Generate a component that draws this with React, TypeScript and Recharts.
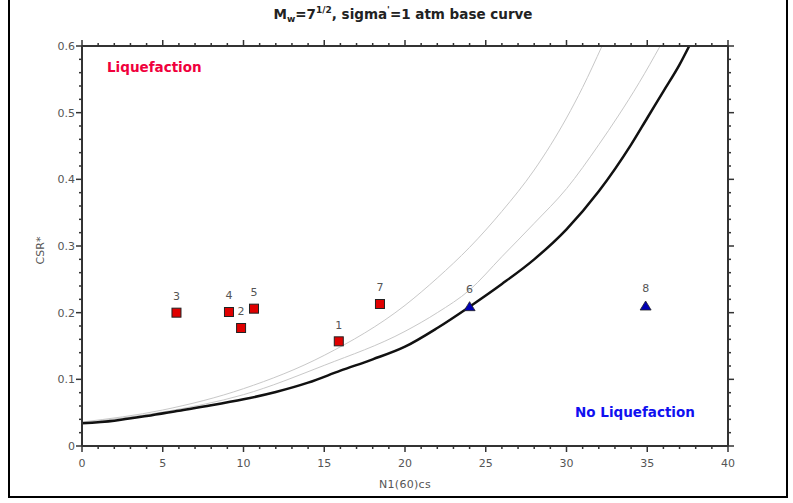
import { ComposedChart, Line, Scatter, XAxis, YAxis, CartesianGrid, LabelList } from "recharts"

// base curve and the two thin reference curves
const baseN = [0, 2, 4, 6, 8, 10, 12, 14, 16, 18, 20, 22, 24, 26, 28, 30, 32, 34, 35, 36, 37, 37.6]
const baseCsr = [0.034, 0.038, 0.045, 0.053, 0.061, 0.07, 0.081, 0.095, 0.113, 0.13, 0.149, 0.177, 0.209, 0.243, 0.28, 0.325, 0.382, 0.452, 0.492, 0.532, 0.572, 0.6]

const midN = [0, 5, 10, 15, 20, 22, 24, 26, 28, 30, 32, 33.2, 34.5, 35.8]
const midCsr = [0.035, 0.051, 0.077, 0.121, 0.172, 0.2, 0.234, 0.284, 0.334, 0.386, 0.452, 0.495, 0.545, 0.6]

const upperN = [0, 5, 10, 15, 20, 22, 24, 26, 28, 30, 31, 32.2]
const upperCsr = [0.036, 0.054, 0.086, 0.136, 0.211, 0.252, 0.298, 0.352, 0.414, 0.492, 0.538, 0.6]

// case histories
const liqLabels = ["1", "2", "3", "4", "5", "7"]
const liqN = [15.9, 9.85, 5.85, 9.1, 10.65, 18.45]
const liqCsr = [0.157, 0.177, 0.2, 0.201, 0.206, 0.213]

const noLiqLabels = ["6", "8"]
const noLiqN = [24.0, 34.9]
const noLiqCsr = [0.209, 0.21]

// axis ticks
const xMajor = [0, 5, 10, 15, 20, 25, 30, 35, 40]
const xMinor = [0, 1, 2, 3, 4, 5, 6, 7, 8, 9, 10, 11, 12, 13, 14, 15, 16, 17, 18, 19, 20, 21, 22, 23, 24, 25, 26, 27, 28, 29, 30, 31, 32, 33, 34, 35, 36, 37, 38, 39, 40]
const yMajor = [0, 0.1, 0.2, 0.3, 0.4, 0.5, 0.6]
const yMinor = [0, 0.02, 0.04, 0.06, 0.08, 0.1, 0.12, 0.14, 0.16, 0.18, 0.2, 0.22, 0.24, 0.26, 0.28, 0.3, 0.32, 0.34, 0.36, 0.38, 0.4, 0.42, 0.44, 0.46, 0.48, 0.5, 0.52, 0.54, 0.56, 0.58, 0.6]

const toPoints = (n: number[], csr: number[], labels?: string[]) =>
  n.map((v, i) => ({ n: v, csr: csr[i], label: labels ? labels[i] : undefined }))

const baseData = toPoints(baseN, baseCsr)
const midData = toPoints(midN, midCsr)
const upperData = toPoints(upperN, upperCsr)
const liqData = toPoints(liqN, liqCsr, liqLabels)
const noLiqData = toPoints(noLiqN, noLiqCsr, noLiqLabels)

const FONT = "'DejaVu Sans', Verdana, sans-serif"
const AXIS = "#333"
const TICKTEXT = "#555"

const onStep = (v: number, step: number) => Math.abs(v / step - Math.round(v / step)) < 1e-6

function BottomTick(props: any) {
  const { x, y, payload } = props
  const major = onStep(payload.value, 5)
  return (
    <g>
      <line x1={x} x2={x} y1={y} y2={y + (major ? 6 : 3)} stroke={AXIS} strokeWidth={1.5} />
      {major && (
        <text x={x} y={y + 21} textAnchor="middle" fontSize={11} fill={TICKTEXT} fontFamily={FONT}>
          {payload.value}
        </text>
      )}
    </g>
  )
}

function TopTick(props: any) {
  const { x, y, payload } = props
  const major = onStep(payload.value, 5)
  return <line x1={x} x2={x} y1={y} y2={y - (major ? 6 : 3)} stroke={AXIS} strokeWidth={1.5} />
}

function LeftTick(props: any) {
  const { x, y, payload } = props
  const major = onStep(payload.value, 0.1)
  return (
    <g>
      <line x1={x} x2={x - (major ? 6 : 3)} y1={y} y2={y} stroke={AXIS} strokeWidth={1.5} />
      {major && (
        <text x={x - 7} y={y + 4} textAnchor="end" fontSize={11} fill={TICKTEXT} fontFamily={FONT}>
          {payload.value}
        </text>
      )}
    </g>
  )
}

function RightTick(props: any) {
  const { x, y, payload } = props
  const major = onStep(payload.value, 0.1)
  return <line x1={x} x2={x + (major ? 6 : 3)} y1={y} y2={y} stroke={AXIS} strokeWidth={1.5} />
}

const Square = (props: any) => {
  const { cx, cy } = props
  return <rect x={cx - 4.5} y={cy - 4.5} width={9} height={9} fill="#e00000" stroke="#222" strokeWidth={1} />
}

const Triangle = (props: any) => {
  const { cx, cy } = props
  return <path d={`M${cx},${cy - 5} L${cx + 5.5},${cy + 4} L${cx - 5.5},${cy + 4} Z`} fill="#0000b4" stroke="#222" strokeWidth={0.8} />
}

export default function App() {
  return (
    <div style={{ position: "absolute", left: 0, top: 0, width: 793, height: 503, background: "#fff", overflow: "hidden" }}>
      <div
        style={{
          position: "absolute",
          left: 8,
          top: -4,
          width: 776,
          height: 498,
          border: "2px solid #000",
        }}
      />
      <div
        style={{
          position: "absolute",
          left: 0,
          top: 5,
          width: 806,
          textAlign: "center",
          fontFamily: FONT,
          fontWeight: "bold",
          fontSize: 13.5,
          color: "#222",
        }}
      >
        M<sub style={{ fontSize: 9 }}>w</sub>=7<sup style={{ fontSize: 9 }}>1/2</sup>, sigma<sup style={{ fontSize: 9 }}>'</sup>=1 atm base curve
      </div>

      <div style={{ position: "absolute", left: 0, top: 0 }}>
        <ComposedChart width={793} height={503} margin={{ top: 38, right: 55, bottom: 27, left: 42 }}>
          <XAxis xAxisId="g" type="number" dataKey="n" domain={[0, 40]} ticks={xMajor} hide />
          <YAxis yAxisId="g" type="number" dataKey="csr" domain={[0, 0.6]} ticks={yMajor} hide />
          <CartesianGrid xAxisId="g" yAxisId="g" stroke="#e2e2e2" strokeWidth={1} />

          <XAxis
            type="number"
            dataKey="n"
            domain={[0, 40]}
            ticks={xMinor}
            interval={0}
            allowDataOverflow
            height={30}
            tickSize={0}
            tickMargin={0}
            tickLine={false}
            tick={<BottomTick />}
            axisLine={{ stroke: AXIS, strokeWidth: 2 }}
          />
          <XAxis
            xAxisId="top"
            orientation="top"
            type="number"
            dataKey="n"
            domain={[0, 40]}
            ticks={xMinor}
            interval={0}
            allowDataOverflow
            height={8}
            tickSize={0}
            tickMargin={0}
            tickLine={false}
            tick={<TopTick />}
            axisLine={{ stroke: AXIS, strokeWidth: 2 }}
          />
          <YAxis
            type="number"
            dataKey="csr"
            domain={[0, 0.6]}
            ticks={yMinor}
            interval={0}
            allowDataOverflow
            width={40}
            tickSize={0}
            tickMargin={0}
            tickLine={false}
            tick={<LeftTick />}
            axisLine={{ stroke: AXIS, strokeWidth: 2 }}
          />
          <YAxis
            yAxisId="right"
            orientation="right"
            type="number"
            dataKey="csr"
            domain={[0, 0.6]}
            ticks={yMinor}
            interval={0}
            allowDataOverflow
            width={10}
            tickSize={0}
            tickMargin={0}
            tickLine={false}
            tick={<RightTick />}
            axisLine={{ stroke: AXIS, strokeWidth: 2 }}
          />

          <Line data={upperData} dataKey="csr" type="monotone" stroke="#c8c8c8" strokeWidth={1} dot={false} isAnimationActive={false} />
          <Line data={midData} dataKey="csr" type="monotone" stroke="#c8c8c8" strokeWidth={1} dot={false} isAnimationActive={false} />
          <Line data={baseData} dataKey="csr" type="monotone" stroke="#111" strokeWidth={2.5} dot={false} isAnimationActive={false} />

          <Scatter data={liqData} dataKey="csr" shape={Square} isAnimationActive={false}>
            <LabelList dataKey="label" position="top" offset={8} fontSize={11} fill={TICKTEXT} fontFamily={FONT} />
          </Scatter>
          <Scatter data={noLiqData} dataKey="csr" shape={Triangle} isAnimationActive={false}>
            <LabelList dataKey="label" position="top" offset={9} fontSize={11} fill={TICKTEXT} fontFamily={FONT} />
          </Scatter>
        </ComposedChart>
      </div>

      <div style={{ position: "absolute", left: 107, top: 59, fontFamily: FONT, fontWeight: "bold", fontSize: 13.5, color: "#f0003c" }}>
        Liquefaction
      </div>
      <div style={{ position: "absolute", left: 575, top: 404, fontFamily: FONT, fontWeight: "bold", fontSize: 13.5, color: "#1010f0" }}>
        No Liquefaction
      </div>
      <div
        style={{
          position: "absolute",
          left: 20,
          top: 244,
          width: 40,
          textAlign: "center",
          transform: "rotate(-90deg)",
          fontFamily: FONT,
          fontSize: 11,
          color: TICKTEXT,
        }}
      >
        CSR*
      </div>
      <div style={{ position: "absolute", left: 355, top: 478, width: 100, textAlign: "center", fontFamily: FONT, fontSize: 11, color: TICKTEXT, letterSpacing: 0.3 }}>
        N1(60)cs
      </div>
    </div>
  )
}
